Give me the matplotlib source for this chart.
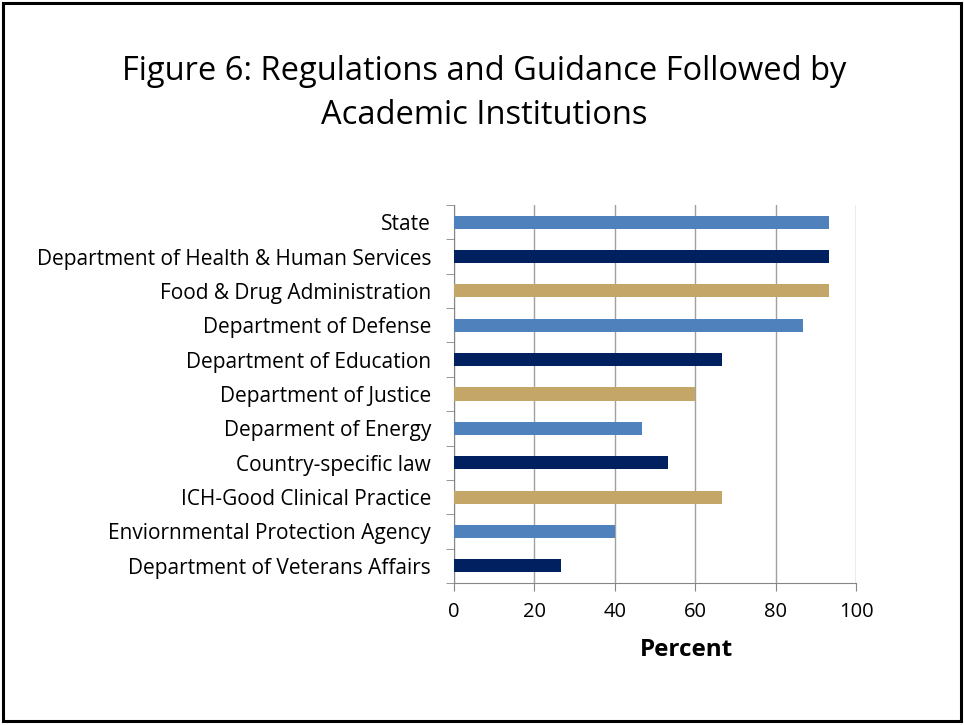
import matplotlib
matplotlib.use("Agg")
import matplotlib.pyplot as plt
from matplotlib.patches import Rectangle

categories = [
    "State",
    "Department of Health & Human Services",
    "Food & Drug Administration",
    "Department of Defense",
    "Department of Education",
    "Department of Justice",
    "Deparment of Energy",
    "Country-specific law",
    "ICH-Good Clinical Practice",
    "Enviornmental Protection Agency",
    "Department of Veterans Affairs",
]
values = [93.3, 93.3, 93.3, 86.7, 66.7, 60.0, 46.7, 53.3, 66.7, 40.0, 26.7]
palette = ["#4F81BD", "#002060", "#C4A768"]
colors = [palette[i % 3] for i in range(len(categories))]
xticks = [0, 20, 40, 60, 80, 100]

plt.rcParams['font.family'] = ['Open Sans', 'DejaVu Sans']

fig = plt.figure(figsize=(9.64, 7.25), dpi=100)
ax = fig.add_axes([454/964, 1-583/725, 402/964, 378/725])

n = len(categories)
ypos = list(range(n))
ax.barh(ypos, values, height=0.38, color=colors, zorder=3)
ax.set_ylim(n - 0.5, -0.5)
ax.set_xlim(0, 100)
ax.set_xticks(xticks)
ax.set_xticklabels([str(t) for t in xticks], fontsize=14.5)
ax.set_yticks(ypos)
ax.set_yticklabels(categories, fontsize=15)
ax.tick_params(axis='y', length=0, pad=16.5)
# minor ticks at category boundaries
ax.set_yticks([i - 0.5 for i in range(n + 1)], minor=True)
ax.tick_params(axis='y', which='minor', length=6, color='#868686', direction='out')
ax.tick_params(axis='x', length=6, color='#868686', direction='out', pad=8)
ax.grid(axis='x', color='#A0A0A0', linewidth=1, zorder=0)
for s in ['top', 'right']:
    ax.spines[s].set_visible(False)
for s in ['left', 'bottom']:
    ax.spines[s].set_color('#868686')
ax.set_xlabel("Percent", fontsize=17.5, fontweight='bold', labelpad=13)
ax.xaxis.set_label_coords((686 - 454) / 402, -0.1, transform=ax.transAxes)
ax.xaxis.label.set_va('top')
ax.xaxis.set_label_coords((686 - 454) / 402, -(638 - 583) / 378)

fig.text(484/964, 1-72/725, "Figure 6: Regulations and Guidance Followed by",
         ha='center', va='center', fontsize=23.5)
fig.text(484/964, 1-115/725, "Academic Institutions",
         ha='center', va='center', fontsize=23.5)

fig.patches.append(Rectangle((0.003, 0.006), 0.994, 0.99, transform=fig.transFigure,
                             fill=False, edgecolor='black', linewidth=2.2))

fig.savefig("out.png", dpi=100)
